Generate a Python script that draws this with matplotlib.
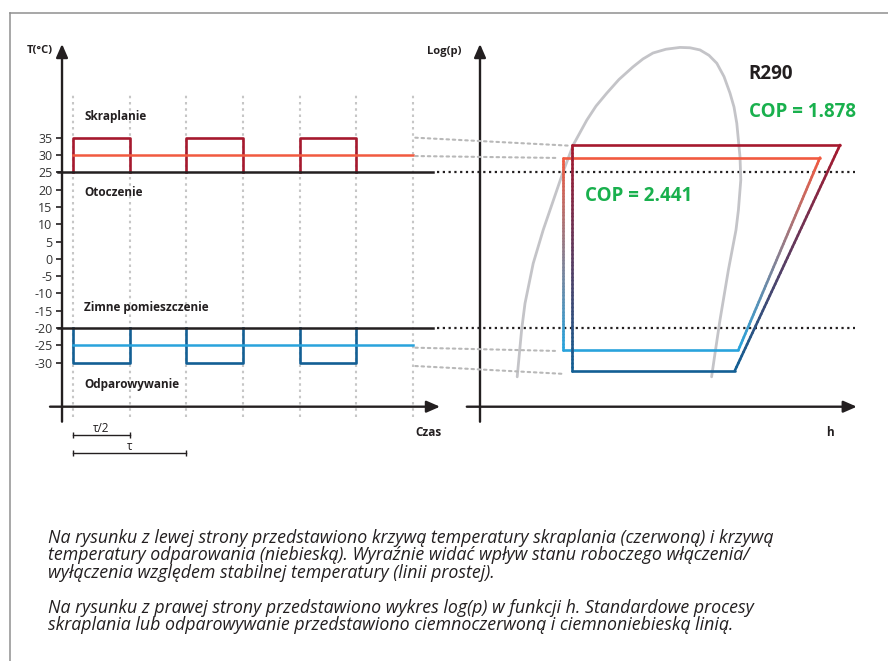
import matplotlib
import numpy as np

matplotlib.use("Agg")
import matplotlib.pyplot as plt
from matplotlib.collections import LineCollection
from matplotlib.colors import to_rgb
from matplotlib.lines import Line2D
from matplotlib.patches import ConnectionPatch

plt.rcParams["font.family"] = ["Open Sans", "DejaVu Sans"]

# left panel: temperature over time (tau = 1)
pulse_starts = [0.0, 1.0, 2.0]
pulse_width = 0.5
t_end = 3.0
grid_times = [0.0, 0.5, 1.0, 1.5, 2.0, 2.5, 3.0]
temp_ticks = [35, 30, 25, 20, 15, 10, 5, 0, -5, -10, -15, -20, -25, -30]
cond_on, cond_mean, ambient = 35, 30, 25
evap_on, evap_mean, cold_room = -30, -25, -20

# right panel: log(p)-h diagram, arbitrary units
# cycle = (h_left, h_top_right, h_bottom_right, p_high, p_low)
std_cycle = (22.9, 90.0, 63.7, 72.7, 10.0)
act_cycle = (20.7, 85.0, 64.6, 69.2, 15.75)
dome_h = [9.3, 10.4, 11.25, 13.3, 15.8, 20.8, 23.3, 26.7, 29.0, 31.7, 34.75, 38.25, 40.75, 43.25,
          46.5, 50.0, 52.5, 55.0, 57.25, 59.2, 61.0, 62.5, 63.5, 64.2, 65.0, 65.2, 64.6, 64.0,
          62.1, 60.0, 58.75, 57.9]
dome_p = [8.3, 21.3, 28.7, 39.8, 49.1, 65.3, 72.7, 79.6, 83.5, 87.1, 90.9, 94.4, 96.6, 98.25,
          99.3, 99.8, 99.7, 99.1, 97.6, 95.4, 91.7, 87.1, 83.25, 78.7, 69.4, 63.0, 54.6, 49.1,
          38.0, 24.1, 14.8, 8.3]
cop_std = 1.878
cop_act = 2.441

INK = "#231f20"
DARK_RED = "#a6192e"
ORANGE = "#f15a40"
DARK_BLUE = "#135f94"
LIGHT_BLUE = "#29a3dc"
GREEN = "#19b04d"
GRID = "#c6c6c6"
DOME = "#c4c4c8"


def gradient_line(ax, x0, y0, x1, y1, c0, c1, lw, n=60):
    xs = np.linspace(x0, x1, n + 1)
    ys = np.linspace(y0, y1, n + 1)
    segs = np.stack([np.column_stack([xs[:-1], ys[:-1]]), np.column_stack([xs[1:], ys[1:]])], axis=1)
    f = np.linspace(0.0, 1.0, n)[:, None]
    cols = (1 - f) * np.array(to_rgb(c0)) + f * np.array(to_rgb(c1))
    ax.add_collection(LineCollection(segs, colors=cols, linewidths=lw, capstyle="round"))


def draw_cycle(ax, cycle, top_color, bottom_color):
    h_l, h_tr, h_br, p_hi, p_lo = cycle
    ax.plot([h_l, h_tr], [p_hi, p_hi], color=top_color, lw=1.9, solid_capstyle="round")
    ax.plot([h_l, h_br], [p_lo, p_lo], color=bottom_color, lw=1.9, solid_capstyle="round")
    gradient_line(ax, h_l, p_hi, h_l, p_lo, top_color, bottom_color, 1.9)
    gradient_line(ax, h_tr, p_hi, h_br, p_lo, top_color, bottom_color, 1.9)


fig = plt.figure(figsize=(8.88, 6.61), dpi=100)
fig.patch.set_facecolor("white")

# frame (left and top edges only)
fig.add_artist(Line2D([10 / 888, 10 / 888], [0, 1 - 13 / 661], color="#8f8f8f", lw=1.1))
fig.add_artist(Line2D([10 / 888, 1], [1 - 13 / 661, 1 - 13 / 661], color="#8f8f8f", lw=1.1))

ax1 = fig.add_axes([20 / 888, 191 / 661, 425 / 888, 430 / 661])
ax2 = fig.add_axes([420 / 888, 191 / 661, 455 / 888, 430 / 661])
for ax in (ax1, ax2):
    ax.set_facecolor("none")
    for side in ("top", "right", "bottom"):
        ax.spines[side].set_visible(False)
    ax.set_xticks([])

ax1.set_xlim(-0.4677, 3.282)
ax1.set_ylim(-61.0, 63.22)
ax2.set_xlim(-15.0, 98.75)
ax2.set_ylim(-17.58, 101.86)

arrow = dict(arrowstyle="-|>,head_length=0.8,head_width=0.35", lw=1.7, color=INK, shrinkA=0, shrinkB=0)

# ---- left panel
t_axis = -0.097
T_xaxis = -42.71
ax1.spines["left"].set_position(("data", t_axis))
ax1.spines["left"].set_color("none")
ax1.set_yticks(temp_ticks)
ax1.set_yticklabels([str(v) for v in temp_ticks])
ax1.tick_params(axis="y", length=4, width=1.2, color=INK, labelsize=9, labelcolor="#333333", pad=3)
ax1.annotate("", xy=(t_axis, 62.07), xytext=(t_axis, -47.04), arrowprops=arrow, annotation_clip=False)
ax1.annotate("", xy=(3.238, T_xaxis), xytext=(-0.203, T_xaxis), arrowprops=arrow, annotation_clip=False)

for t in grid_times:
    ax1.plot([t, t], [-45.6, 47.9], color=GRID, lw=1.5, ls=(0, (1.2, 1.8)))

for s in pulse_starts:
    ax1.plot([s, s, s + pulse_width, s + pulse_width], [ambient, cond_on, cond_on, ambient],
             color=DARK_RED, lw=1.9)
    ax1.plot([s, s, s + pulse_width, s + pulse_width], [cold_room, evap_on, evap_on, cold_room],
             color=DARK_BLUE, lw=1.9)
ax1.plot([0, t_end], [cond_mean, cond_mean], color=ORANGE, lw=1.8)
ax1.plot([0, t_end], [evap_mean, evap_mean], color=LIGHT_BLUE, lw=1.8)

for level in (ambient, cold_room):
    ax1.plot([-0.132, 3.177], [level, level], color=INK, lw=1.8)
    ax1.plot([3.212, 6.9], [level, level], color=INK, lw=1.6, ls=(0, (1, 1.6)), clip_on=False)

label_kw = dict(fontsize=8.5, fontweight="bold", color=INK, va="center", ha="left")
ax1.text(0.097, 41.07, "Skraplanie", **label_kw)
ax1.text(0.097, 19.1, "Otoczenie", **label_kw)
ax1.text(0.097, -14.2, "Zimne pomieszczenie", **label_kw)
ax1.text(0.097, -36.4, "Odparowywanie", **label_kw)
ax1.text(-0.296, 60.1, "T(°C)", fontsize=8, fontweight="bold", color=INK, ha="center", va="center")
ax1.text(3.137, -50.3, "Czas", fontsize=8.5, fontweight="bold", color=INK, ha="center", va="center",
         clip_on=False)

# tau brackets
ax1.plot([0, pulse_width], [-50.9, -50.9], color=INK, lw=1, marker="|", ms=4, mew=1)
ax1.text(pulse_width / 2, -49.0, "τ/2", fontsize=8.5, color=INK, ha="center", va="center")
ax1.plot([0, 1.0], [-56.0, -56.0], color=INK, lw=1, marker="|", ms=4, mew=1)
ax1.text(0.5, -54.2, "τ", fontsize=8.5, color=INK, ha="center", va="center")

# ---- right panel
ax2.spines["left"].set_visible(False)
ax2.set_yticks([])
ax2.annotate("", xy=(0, 100.75), xytext=(0, -4.17), arrowprops=arrow, annotation_clip=False)
ax2.annotate("", xy=(94.2, 0), xytext=(-3.3, 0), arrowprops=arrow, annotation_clip=False)

ax2.plot(dome_h, dome_p, color=DOME, lw=2.0, solid_capstyle="round", solid_joinstyle="round")
draw_cycle(ax2, act_cycle, ORANGE, LIGHT_BLUE)
draw_cycle(ax2, std_cycle, DARK_RED, DARK_BLUE)

ax2.text(-9.0, 98.8, "Log(p)", fontsize=8, fontweight="bold", color=INK, ha="center", va="center")
ax2.text(87.5, -7.3, "h", fontsize=8.5, fontweight="bold", color=INK, ha="center", va="center")
ax2.text(72.6, 92.3, "R290", fontsize=13.5, fontweight="bold", color=INK, ha="center", va="center")
ax2.text(67.25, 81.9, f"COP = {cop_std:.3f}", fontsize=13.5, fontweight="bold", color=GREEN,
         ha="left", va="center")
ax2.text(26.25, 58.6, f"COP = {cop_act:.3f}", fontsize=13.5, fontweight="bold", color=GREEN,
         ha="left", va="center")

# dotted connectors between the two panels
links = [
    ((3.02, cond_on), (22.5, 72.5)),
    ((3.02, 29.7), (19.25, 69.1)),
    ((3.02, -25.67), (18.75, 15.5)),
    ((3.02, -30.96), (21.25, 9.1)),
]
for (ta, Ta), (hb, pb) in links:
    fig.add_artist(ConnectionPatch(xyA=(ta, Ta), coordsA=ax1.transData, xyB=(hb, pb), coordsB=ax2.transData,
                                   color="#b8b8b8", lw=1.5, ls=(0, (1.2, 1.8))))

caption = (
    "Na rysunku z lewej strony przedstawiono krzywą temperatury skraplania (czerwoną) i krzywą\n"
    "temperatury odparowania (niebieską). Wyraźnie widać wpływ stanu roboczego włączenia/\n"
    "wyłączenia względem stabilnej temperatury (linii prostej).\n"
    "\n"
    "Na rysunku z prawej strony przedstawiono wykres log(p) w funkcji h. Standardowe procesy\n"
    "skraplania lub odparowywanie przedstawiono ciemnoczerwoną i ciemnoniebieską linią."
)
fig.text(48 / 888, 1 - 529 / 661, caption, fontsize=12.8, style="italic", color=INK,
         ha="left", va="top", linespacing=0.96)

fig.savefig("out.png", dpi=100)
